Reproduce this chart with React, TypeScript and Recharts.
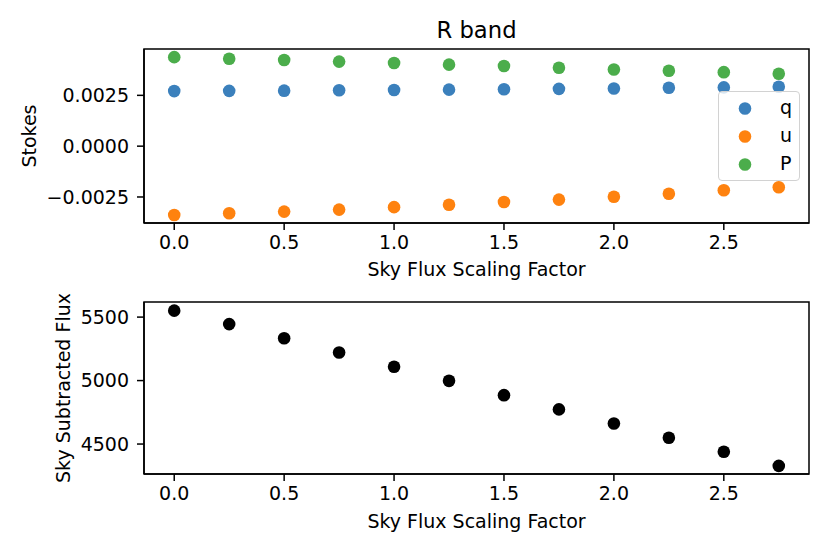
import { ScatterChart, Scatter, XAxis, YAxis, ReferenceArea } from "recharts";

const scalingFactors = [0, 0.25, 0.5, 0.75, 1.0, 1.25, 1.5, 1.75, 2.0, 2.25, 2.5, 2.75];
const qValues = [0.00271, 0.00272, 0.00273, 0.00275, 0.00276, 0.00278, 0.0028, 0.00282, 0.00284, 0.00287, 0.00289, 0.00292];
const uValues = [-0.00339, -0.0033, -0.00322, -0.00312, -0.003, -0.00288, -0.00275, -0.00263, -0.00249, -0.00234, -0.00217, -0.00202];
const pValues = [0.00438, 0.0043, 0.00424, 0.00416, 0.00409, 0.00401, 0.00394, 0.00386, 0.00377, 0.00371, 0.00364, 0.00356];
const fluxValues = [5551, 5445, 5334, 5221, 5109, 4998, 4885, 4773, 4662, 4549, 4439, 4328];

const xTicks = [0, 0.5, 1.0, 1.5, 2.0, 2.5];
const stokesTicks = [-0.0025, 0, 0.0025];
const fluxTicks = [4500, 5000, 5500];
const stokesNames = ["q", "u", "P"];

const COLORS = ["#3b80bc", "#fe820f", "#4bad4b"];
const FONT = "DejaVu Sans, sans-serif";
const X_DOMAIN = [-0.1375, 2.8875];
const STOKES_DOMAIN = [-0.00378, 0.00478];
const FLUX_DOMAIN = [4264, 5619];

const toPoints = (ys: number[]) => scalingFactors.map((x, i) => ({ x, y: ys[i] }));
const stokesSeries = [qValues, uValues, pValues].map(toPoints);
const fluxSeries = toPoints(fluxValues);

const dot = (color: string) => (props: any) =>
  <circle cx={props.cx} cy={props.cy} r={6.3} fill={color} />;

const tickStyle = { fill: "#000", fontSize: 19, fontFamily: FONT };
const tickLine = { stroke: "#000", strokeWidth: 1.5 };
const axisLine = { stroke: "#000", strokeWidth: 1.5 };

const fmtStokes = (v: number) =>
  v === 0 ? "0.0000" : (v < 0 ? "\u2212" : "") + Math.abs(v).toFixed(4);

function Frame({ y1, y2 }: { y1: number; y2: number }) {
  return (
    <ReferenceArea
      x1={X_DOMAIN[0]}
      x2={X_DOMAIN[1]}
      y1={y1}
      y2={y2}
      fill="none"
      fillOpacity={0}
      stroke="#000"
      strokeWidth={1.5}
      strokeOpacity={1}
      ifOverflow="visible"
    />
  );
}

function xAxis(labelOffset: number, height: number) {
  return (
    <XAxis
      type="number"
      dataKey="x"
      domain={X_DOMAIN}
      ticks={xTicks}
      interval={0}
      allowDataOverflow
      height={height}
      tickSize={7}
      tickMargin={6}
      tick={tickStyle}
      tickLine={tickLine}
      axisLine={axisLine}
      tickFormatter={(v: number) => v.toFixed(1)}
      label={{ value: "Sky Flux Scaling Factor", position: "insideBottom", offset: labelOffset, fill: "#000", fontSize: 19, fontFamily: FONT }}
    />
  );
}

export default function App() {
  return (
    <div style={{ position: "absolute", left: 0, top: 0, width: 830, height: 554, background: "#fff", fontFamily: FONT }}>
      <div style={{ position: "absolute", left: 144, top: 19, width: 665, textAlign: "center", fontSize: 22.7, lineHeight: 1, color: "#000" }}>
        R band
      </div>

      <div style={{ position: "absolute", left: 0, top: 0 }}>
        <ScatterChart width={830} height={287} margin={{ top: 49, right: 21, bottom: 0, left: 0 }}>
          {xAxis(11, 64)}
          <YAxis
            type="number"
            dataKey="y"
            domain={STOKES_DOMAIN}
            ticks={stokesTicks}
            interval={0}
            allowDataOverflow
            width={144}
            tickSize={7}
            tickMargin={8}
            tick={tickStyle}
            tickLine={tickLine}
            axisLine={axisLine}
            tickFormatter={fmtStokes}
            label={() => (
              <text x={36} y={136} transform="rotate(-90, 36, 136)" textAnchor="middle" fill="#000" fontSize={19} fontFamily={FONT}>
                Stokes
              </text>
            )}
          />
          {stokesSeries.map((pts, i) => (
            <Scatter key={stokesNames[i]} name={stokesNames[i]} data={pts} fill={COLORS[i]} shape={dot(COLORS[i])} isAnimationActive={false} />
          ))}
          <Frame y1={STOKES_DOMAIN[0]} y2={STOKES_DOMAIN[1]} />
        </ScatterChart>
      </div>

      <div style={{ position: "absolute", left: 718, top: 91, width: 82, height: 90, boxSizing: "border-box", border: "1px solid #d2d2d2", borderRadius: 4, background: "rgba(255,255,255,0.8)" }}>
        <svg width={82} height={90} style={{ position: "absolute", left: -1, top: -1 }}>
          {stokesNames.map((name, i) => (
            <g key={name}>
              <circle cx={27} cy={17.5 + 28 * i} r={6.3} fill={COLORS[i]} />
              <text x={62} y={23.2 + 28 * i} fill="#000" fontSize={19} fontFamily={FONT}>{name}</text>
            </g>
          ))}
        </svg>
      </div>

      <div style={{ position: "absolute", left: 0, top: 287 }}>
        <ScatterChart width={830} height={267} margin={{ top: 15, right: 21, bottom: 20, left: 0 }}>
          {xAxis(6, 60)}
          <YAxis
            type="number"
            dataKey="y"
            domain={FLUX_DOMAIN}
            ticks={fluxTicks}
            interval={0}
            allowDataOverflow
            width={144}
            tickSize={7}
            tickMargin={8}
            tick={tickStyle}
            tickLine={tickLine}
            axisLine={axisLine}
            label={() => (
              <text x={70} y={101} transform="rotate(-90, 70, 101)" textAnchor="middle" fill="#000" fontSize={19} fontFamily={FONT}>
                Sky Subtracted Flux
              </text>
            )}
          />
          <Scatter name="flux" data={fluxSeries} fill="#000" shape={dot("#000")} isAnimationActive={false} />
          <Frame y1={FLUX_DOMAIN[0]} y2={FLUX_DOMAIN[1]} />
        </ScatterChart>
      </div>
    </div>
  );
}
